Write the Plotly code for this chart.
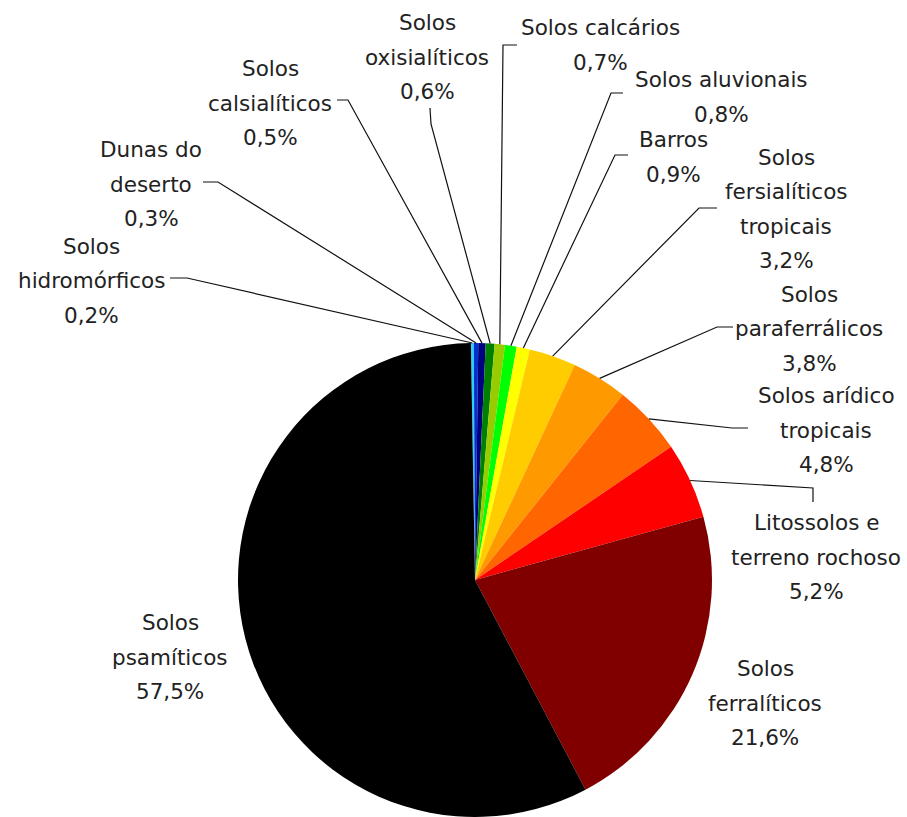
import math
import plotly.graph_objects as go

# ---------------- data ----------------
categories = [
    "Solos hidromórficos", "Dunas do deserto", "Solos calsialíticos",
    "Solos oxisialíticos", "Solos calcários", "Solos aluvionais", "Barros",
    "Solos fersialíticos tropicais", "Solos paraferrálicos",
    "Solos arídico tropicais", "Litossolos e terreno rochoso",
    "Solos ferralíticos", "Solos psamíticos",
]
values = [0.2, 0.3, 0.5, 0.6, 0.7, 0.8, 0.9, 3.2, 3.8, 4.8, 5.2, 21.6, 57.5]
label_lines = [
    ["Solos", "hidromórficos"],
    ["Dunas do", "deserto"],
    ["Solos", "calsialíticos"],
    ["Solos", "oxisialíticos"],
    ["Solos calcários"],
    ["Solos aluvionais"],
    ["Barros"],
    ["Solos", "fersialíticos", "tropicais"],
    ["Solos", "paraferrálicos"],
    ["Solos arídico", "tropicais"],
    ["Litossolos e", "terreno rochoso"],
    ["Solos", "ferralíticos"],
    ["Solos", "psamíticos"],
]

# ---------------- styles / layout ----------------
colors = ["#33CCFF", "#0033CC", "#000080", "#008000", "#99CC00", "#00FF00",
          "#FFFF00", "#FFCC00", "#FF9900", "#FF6600", "#FF0000", "#800000",
          "#000000"]

W, H = 907, 817
PIE_CX, PIE_CY, PIE_R = 475, 580, 237
ROTATION = -1
FONT = "DejaVu Sans"
FONT_SIZE = 21.5
LINE_GAP = 34.5
TEXT_COLOR = "#222222"

# label centre (px, from top-left) and leader elbow points (px)
label_pos = [
    (91, 281), (151, 184), (270, 103), (427, 57), (600, 45), (721, 97),
    (673, 157), (786, 209), (809, 329), (826, 430), (816, 557), (765, 703),
    (170, 657),
]
leaders = [
    [(170, 278), (187, 278)],
    [(203, 182), (218, 182)],
    [(337, 100), (348, 100)],
    [(430, 108), (431, 124)],
    [(517, 45), (503, 45)],
    [(623, 93), (611, 93)],
    [(628, 155), (615, 155)],
    [(717, 208), (699, 208)],
    [(733, 327), (717, 327)],
    [(748, 428), (732, 428)],
    [(813, 502), (813, 488)],
    None,
    None,
]


def px(x):
    return x / W


def py(y):
    return 1 - y / H


def pct(v):
    return f"{v:.1f}".replace(".", ",") + "%"


fig = go.Figure()
fig.add_trace(go.Pie(
    labels=categories,
    values=values,
    sort=False,
    direction="clockwise",
    rotation=ROTATION,
    textinfo="none",
    hoverinfo="label+percent",
    showlegend=False,
    marker=dict(colors=colors, line=dict(width=0)),
    domain=dict(x=[px(PIE_CX - PIE_R), px(PIE_CX + PIE_R)],
                y=[py(PIE_CY + PIE_R), py(PIE_CY - PIE_R)]),
))

annotations = []
shapes = []
total = sum(values)
cum = 0.0
for i, v in enumerate(values):
    mid = (cum + v / 2) / total * 360 + ROTATION
    cum += v
    lines = label_lines[i] + [pct(v)]
    cx, cy = label_pos[i]
    n = len(lines)
    for k, t in enumerate(lines):
        yy = cy + (k - (n - 1) / 2) * LINE_GAP
        annotations.append(dict(
            x=px(cx), y=py(yy), xref="paper", yref="paper",
            text=t, showarrow=False, xanchor="center", yanchor="middle",
            font=dict(family=FONT, size=FONT_SIZE, color=TEXT_COLOR),
        ))
    if leaders[i]:
        ex = PIE_CX + PIE_R * math.sin(math.radians(mid))
        ey = PIE_CY - PIE_R * math.cos(math.radians(mid))
        pts = leaders[i] + [(ex, ey)]
        path = "M " + " L ".join(f"{px(a):.5f},{py(b):.5f}" for a, b in pts)
        shapes.append(dict(type="path", path=path, xref="paper", yref="paper",
                           line=dict(color="#111111", width=1.2)))

fig.update_layout(
    width=W, height=H,
    margin=dict(l=0, r=0, t=0, b=0),
    paper_bgcolor="white", plot_bgcolor="white",
    annotations=annotations, shapes=shapes,
)

fig.write_html(
    "out.html",
    config={"displayModeBar": False},
    post_script="document.body.style.margin='0';document.body.style.overflow='hidden';",
)
